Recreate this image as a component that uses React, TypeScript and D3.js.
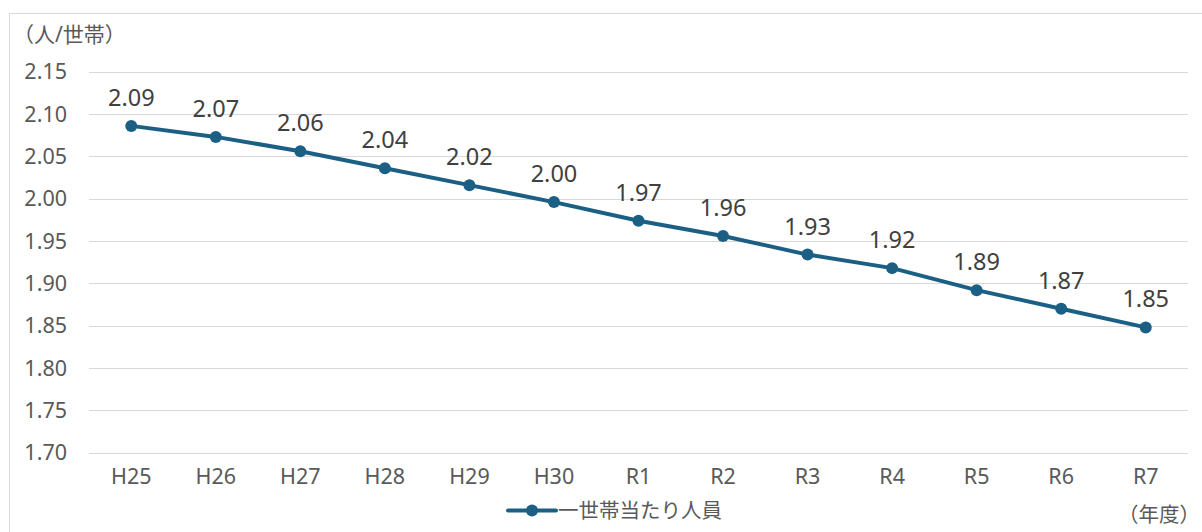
import { useEffect, useRef } from "react";
import * as d3 from "d3";

const years = ["H25", "H26", "H27", "H28", "H29", "H30", "R1", "R2", "R3", "R4", "R5", "R6", "R7"];
const perHousehold = [2.086, 2.073, 2.056, 2.036, 2.016, 1.996, 1.974, 1.956, 1.934, 1.918, 1.892, 1.87, 1.848];
const yTicks = [1.7, 1.75, 1.8, 1.85, 1.9, 1.95, 2.0, 2.05, 2.1, 2.15];
const seriesName = "一世帯当たり人員";

const W = 1202;
const H = 532;
const FONT = "'Noto Sans', 'Noto Sans CJK JP', sans-serif";
const TEXT = "#595959";
const LINE = "#1b6084";

export default function App() {
  const ref = useRef<SVGSVGElement>(null);

  useEffect(() => {
    if (!ref.current) return;
    const svg = d3.select(ref.current);
    svg.selectAll("*").remove();

    const x = d3.scaleBand<string>().domain(years).range([89, 1188]);
    const y = d3.scaleLinear().domain([1.7, 2.15]).range([452.7, 71.7]);
    const cx = (d: string) => (x(d) ?? 0) + x.bandwidth() / 2;

    svg
      .append("rect")
      .attr("x", 9.5)
      .attr("y", 13.5)
      .attr("width", 1200)
      .attr("height", 530)
      .attr("fill", "white")
      .attr("stroke", "#d9d9d9");

    // gridlines
    svg
      .append("g")
      .selectAll("line")
      .data(yTicks)
      .join("line")
      .attr("x1", 89)
      .attr("x2", 1188)
      .attr("y1", (d) => Math.round(y(d)) + 0.5)
      .attr("y2", (d) => Math.round(y(d)) + 0.5)
      .attr("stroke", "#d9d9d9")
      .attr("stroke-width", 1.2);

    // y tick labels
    svg
      .append("g")
      .selectAll("text")
      .data(yTicks)
      .join("text")
      .attr("x", 67)
      .attr("y", (d) => y(d))
      .attr("dy", "0.36em")
      .attr("text-anchor", "end")
      .attr("font-family", FONT)
      .attr("font-size", 21.5)
      .attr("fill", TEXT)
      .text((d) => d3.format(".2f")(d));

    // x tick labels
    svg
      .append("g")
      .selectAll("text")
      .data(years)
      .join("text")
      .attr("x", cx)
      .attr("y", 484)
      .attr("text-anchor", "middle")
      .attr("font-family", FONT)
      .attr("font-size", 21.5)
      .attr("fill", TEXT)
      .text((d) => d);

    const line = d3
      .line<number>()
      .x((_, i) => cx(years[i]))
      .y((d) => y(d));

    svg
      .append("path")
      .attr("d", line(perHousehold))
      .attr("fill", "none")
      .attr("stroke", LINE)
      .attr("stroke-width", 4)
      .attr("stroke-linejoin", "round");

    svg
      .append("g")
      .selectAll("circle")
      .data(perHousehold)
      .join("circle")
      .attr("cx", (_, i) => cx(years[i]))
      .attr("cy", (d) => y(d))
      .attr("r", 6)
      .attr("fill", LINE);

    // data labels
    svg
      .append("g")
      .selectAll("text")
      .data(perHousehold)
      .join("text")
      .attr("x", (_, i) => cx(years[i]))
      .attr("y", (d) => y(d) - 20)
      .attr("text-anchor", "middle")
      .attr("font-family", FONT)
      .attr("font-size", 23.5)
      .attr("fill", "#404040")
      .text((d) => d3.format(".2f")(d));

    // unit labels
    svg
      .append("text")
      .attr("x", 13)
      .attr("y", 42)
      .attr("font-family", FONT)
      .attr("font-size", 21)
      .attr("fill", TEXT)
      .text("（人/世帯）");

    svg
      .append("text")
      .attr("x", 1200)
      .attr("y", 522)
      .attr("text-anchor", "end")
      .attr("font-family", FONT)
      .attr("font-size", 20.5)
      .attr("fill", TEXT)
      .text("（年度）");

    // legend
    const lg = svg.append("g").attr("transform", "translate(508, 510.5)");
    lg.append("line")
      .attr("x1", 0)
      .attr("x2", 48)
      .attr("stroke", LINE)
      .attr("stroke-width", 4)
      .attr("stroke-linecap", "round");
    lg.append("circle").attr("cx", 24).attr("r", 6).attr("fill", LINE);
    lg.append("text")
      .attr("x", 50)
      .attr("dy", "0.36em")
      .attr("font-family", FONT)
      .attr("font-size", 20.5)
      .attr("fill", TEXT)
      .text(seriesName);
  }, []);

  return (
    <svg
      ref={ref}
      width={W}
      height={H}
      style={{ position: "absolute", left: 0, top: 0, background: "white" }}
    />
  );
}
